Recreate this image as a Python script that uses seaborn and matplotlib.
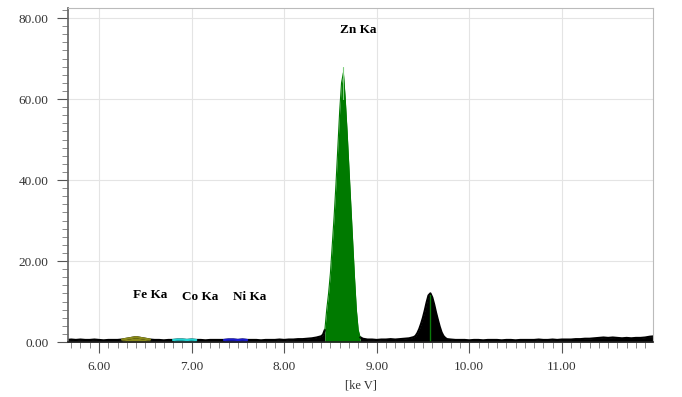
import numpy as np
import matplotlib
matplotlib.use("Agg")
import matplotlib.pyplot as plt
import seaborn as sns
from matplotlib.ticker import MultipleLocator, FormatStrFormatter

# channel energies (keV) and counts
kev = [5.65, 5.70, 5.75, 5.80, 5.85, 5.90, 5.95, 6.00, 6.05, 6.10, 6.15, 6.20,
       6.25, 6.30, 6.35, 6.40, 6.45, 6.50, 6.55, 6.60, 6.65, 6.70, 6.75, 6.80,
       6.85, 6.90, 6.95, 7.00, 7.05, 7.10, 7.15, 7.20, 7.25, 7.30, 7.35, 7.40,
       7.45, 7.50, 7.55, 7.60, 7.65, 7.70, 7.75, 7.80, 7.85, 7.90, 7.95, 8.00,
       8.05, 8.10, 8.15, 8.20, 8.25, 8.30, 8.35, 8.40,
       8.42, 8.44, 8.46, 8.48, 8.50, 8.52, 8.54, 8.56, 8.58, 8.60, 8.62, 8.64,
       8.66, 8.68, 8.70, 8.72, 8.74, 8.76, 8.78, 8.80, 8.82,
       8.85, 8.90, 8.95, 9.00, 9.05, 9.10, 9.15, 9.20, 9.25, 9.30, 9.35, 9.40,
       9.42, 9.44, 9.46, 9.48, 9.50, 9.52, 9.54, 9.56, 9.58, 9.60, 9.62, 9.64,
       9.66, 9.68, 9.70, 9.72, 9.74, 9.76,
       9.80, 9.85, 9.90, 9.95, 10.00, 10.05, 10.10, 10.15, 10.20, 10.25, 10.30,
       10.35, 10.40, 10.45, 10.50, 10.55, 10.60, 10.65, 10.70, 10.75, 10.80,
       10.85, 10.90, 10.95, 11.00, 11.05, 11.10, 11.15, 11.20, 11.25, 11.30,
       11.35, 11.40, 11.45, 11.50, 11.55, 11.60, 11.65, 11.70, 11.75, 11.80,
       11.85, 11.90, 11.95, 12.00]

counts = [0.5, 0.6, 0.5, 0.6, 0.5, 0.5, 0.6, 0.5, 0.4, 0.5, 0.5, 0.5,
          0.6, 0.8, 1.0, 1.2, 1.0, 0.8, 0.6, 0.5, 0.5, 0.4, 0.5, 0.5,
          0.6, 0.6, 0.5, 0.6, 0.5, 0.5, 0.4, 0.5, 0.5, 0.5, 0.5, 0.6,
          0.6, 0.5, 0.6, 0.5, 0.5, 0.5, 0.4, 0.5, 0.5, 0.5, 0.6, 0.5,
          0.6, 0.6, 0.7, 0.7, 0.8, 0.9, 1.1, 1.4,
          1.8, 3.0, 8.0, 12.0, 17.0, 24.0, 31.0, 39.0, 48.0, 57.0, 64.0, 66.5,
          60.0, 52.0, 43.0, 34.0, 25.0, 16.0, 8.0, 3.0, 1.2,
          0.8, 0.6, 0.6, 0.5, 0.6, 0.6, 0.7, 0.6, 0.7, 0.8, 0.9, 1.2,
          1.5, 2.2, 3.2, 4.5, 6.0, 7.8, 9.8, 11.5, 12.0, 11.0, 9.3, 7.3,
          5.5, 3.8, 2.4, 1.5, 1.0, 0.7,
          0.6, 0.5, 0.5, 0.5, 0.4, 0.5, 0.5, 0.4, 0.5, 0.5, 0.5,
          0.4, 0.5, 0.5, 0.4, 0.5, 0.5, 0.5, 0.5, 0.6, 0.5,
          0.5, 0.6, 0.5, 0.6, 0.6, 0.6, 0.7, 0.7, 0.8, 0.8,
          0.9, 1.0, 1.1, 1.0, 1.1, 1.0, 0.9, 1.0, 0.9, 1.0,
          1.0, 1.1, 1.3, 1.4]

# element windows: name, low keV, high keV, colour, label position
lines = ["Fe Ka", "Co Ka", "Ni Ka", "Zn Ka"]
lo = [6.25, 6.80, 7.35, 8.44]
hi = [6.55, 7.05, 7.60, 8.82]
colors = ["#8a8a1a", "#22d3d3", "#1a1ad0", "#007a00"]
label_x = [6.55, 7.09, 7.63, 8.80]
label_y = [11.6, 11.0, 11.2, 77.0]

kb_kev = 9.575
kb_top = 11.6
zn_spike = 68.0
zn_spike_kev = 8.635

sns.set_theme(style="ticks")
plt.rcParams["font.family"] = ["Liberation Serif", "DejaVu Serif"]

fig = plt.figure(figsize=(6.82, 3.97), dpi=100)
ax = fig.add_axes([0.0997, 0.1385, 0.8578, 0.8415])

x = np.array(kev)
y = np.array(counts)

# black background spectrum, split around the Zn Ka window
zn_lo, zn_hi = lo[3], hi[3]
for m in [x <= zn_lo, x >= zn_hi]:
    ax.fill_between(x[m], 0, y[m], color="black", lw=0)
    sns.lineplot(x=x[m], y=y[m], ax=ax, color="black", lw=1.6)

for name, a, b, c in zip(lines, lo, hi, colors):
    m = (x >= a) & (x <= b)
    ax.fill_between(x[m], 0, y[m], color=c, lw=0)
    sns.lineplot(x=x[m], y=y[m], ax=ax, color=c, lw=1.6 if name != "Zn Ka" else 0.8)

ax.plot([zn_spike_kev, zn_spike_kev], [60, zn_spike], color="#7fcf7f", lw=0.8)
ax.plot([kb_kev, kb_kev], [0, kb_top], color="#0a7a0a", lw=1)

for name, lx, ly in zip(lines, label_x, label_y):
    ax.text(lx, ly, name, ha="center", va="center", fontsize=9.5,
            fontweight="bold", color="black")

ax.set_xlim(5.665, 11.985)
ax.set_ylim(0, 82.5)
ax.xaxis.set_major_locator(MultipleLocator(1))
ax.xaxis.set_minor_locator(MultipleLocator(0.1))
ax.yaxis.set_major_locator(MultipleLocator(20))
ax.yaxis.set_minor_locator(MultipleLocator(2))
ax.xaxis.set_major_formatter(FormatStrFormatter("%.2f"))
ax.yaxis.set_major_formatter(FormatStrFormatter("%.2f"))

ax.grid(True, which="major", color="#e4e4e4", lw=0.8)
ax.set_axisbelow(True)
ax.tick_params(axis="both", which="major", length=8, width=0.8, color="#555555",
               labelsize=9.5, labelcolor="#333333", pad=6)
ax.tick_params(axis="both", which="minor", length=4, width=0.6, color="#777777")
for side in ["top", "right"]:
    ax.spines[side].set_visible(True)
    ax.spines[side].set_color("#bbbbbb")
    ax.spines[side].set_linewidth(0.8)
ax.spines["left"].set_color("#666666")
ax.spines["bottom"].set_color("#222222")
ax.spines["bottom"].set_linewidth(1.2)

ax.set_xlabel("[ke V]", fontsize=9, color="#333333", labelpad=4)
ax.set_ylabel("")

fig.savefig("out.png", dpi=100)
